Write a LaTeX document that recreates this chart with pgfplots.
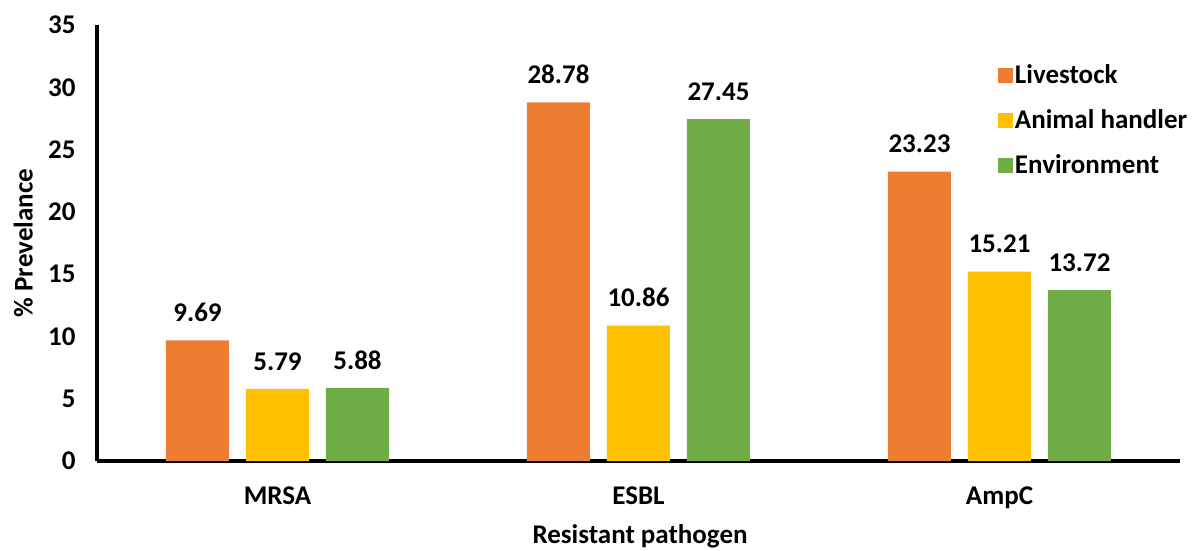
\documentclass[border=0pt]{standalone}
\usepackage{fontspec}
\setmainfont{Carlito}
\usepackage{pgfplots}
\pgfplotsset{compat=1.18}
\definecolor{cLive}{HTML}{ED7D31}
\definecolor{cHand}{HTML}{FFC000}
\definecolor{cEnv}{HTML}{70AD47}
\newcommand{\bigf}{\fontsize{27}{32}\selectfont\bfseries}
\begin{document}
\begin{tikzpicture}
\begin{axis}[
  at={(97pt,89pt)}, anchor=south west,
  scale only axis, width=1083pt, height=436pt,
  xmin=-0.5, xmax=2.5, ymin=0, ymax=35,
  ytick={0,5,...,35},
  xtick={0,1,2}, xticklabels={MRSA,ESBL,AmpC},
  axis x line=bottom, axis y line=left,
  axis line style={line width=3.5pt, -},
  major tick length=0pt,
  /pgf/number format/assume math mode=true,
  ticklabel style={font=\bigf},
  yticklabel style={xshift=-18pt},
  xticklabel style={yshift=-22pt},
  ybar, bar width=63pt, ybar=17pt,
  nodes near coords,
  nodes near coords style={/pgf/number format/fixed, /pgf/number format/fixed zerofill, /pgf/number format/precision=2, /pgf/number format/assume math mode=true, font=\bigf, yshift=15pt},
  xlabel={Resistant pathogen}, ylabel={\% Prevelance},
  every axis x label/.style={at={(axis description cs:0.5014,-0.172)}, anchor=center, font=\bigf},
  every axis y label/.style={at={(axis description cs:-0.068,0.5)}, anchor=center, rotate=90, font=\bigf},
  legend style={at={(0.829,0.918)}, anchor=north west, draw=none, fill=none, font=\bigf, row sep=20.5pt},
  legend cell align=left,
  every axis plot post/.append style={legend image code/.code={\fill[##1] (0pt,-7.5pt) rectangle (15pt,7.5pt);}},
]
\addplot[fill=cLive, draw=none] coordinates {(0,9.69) (1,28.78) (2,23.23)};
\addplot[fill=cHand, draw=none] coordinates {(0,5.79) (1,10.86) (2,15.21)};
\addplot[fill=cEnv, draw=none] coordinates {(0,5.88) (1,27.45) (2,13.72)};
\legend{Livestock, Animal handler, Environment}
\end{axis}
\pgfresetboundingbox
\path (0,0) rectangle (1199pt,550pt);
\end{tikzpicture}
\end{document}
